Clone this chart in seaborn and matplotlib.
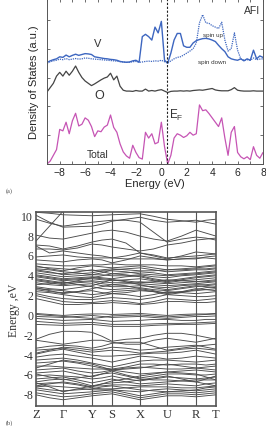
import numpy as np
import pandas as pd
import matplotlib
matplotlib.use('Agg')
import matplotlib.pyplot as plt
import seaborn as sns

sns.set_style('ticks')
plt.rcParams['font.family'] = ['Liberation Sans', 'DejaVu Sans']

# ---------------- (a) density of states ----------------
energy = np.arange(-9.0, 8.001, 0.25)  # eV grid

total = [0.0, 0.1, 0.3, 0.5, 1.2, 1.15, 1.45, 1.05, 1.5, 1.76, 1.32, 1.38, 1.6, 1.52,
         1.3, 0.95, 1.15, 1.12, 1.28, 1.35, 1.7, 1.27, 1.1, 0.7, 0.42, 0.28, 0.2, 0.65,
         0.4, 0.22, 0.17, 1.1, 0.9, 1.05, 0.7, 0.75, 1.45, 0.6, 0.0, 0.3, 0.9, 1.05,
         1.0, 0.92, 0.98, 1.1, 1.0, 1.05, 2.05, 1.85, 1.88, 1.75, 1.6, 1.45, 1.3, 1.6,
         0.9, 0.3, 1.1, 1.3, 0.4, 0.25, 0.18, 0.25, 0.15, 0.6, 0.3, 0.2, 0.4]

dos_o = [0.0, 0.15, 0.3, 0.55, 0.68, 0.55, 0.72, 0.58, 0.72, 0.9, 0.68, 0.5, 0.38, 0.3,
         0.22, 0.28, 0.35, 0.42, 0.48, 0.52, 0.65, 0.42, 0.55, 0.2, 0.06, 0.03, 0.03, 0.02,
         0.05, 0.03, 0.03, 0.1, 0.03, 0.05, 0.03, 0.06, 0.08, 0.03, -0.02, 0.02, 0.03, 0.03,
         0.04, 0.03, 0.04, 0.03, 0.05, 0.06, 0.07, 0.06, 0.08, 0.1, 0.12, 0.07, 0.05, 0.04,
         0.04, 0.04, 0.08, 0.15, 0.06, 0.04, 0.03, 0.03, 0.03, 0.04, 0.03, 0.03, 0.03]

v_down = [0.02, 0.08, 0.12, 0.15, 0.22, 0.2, 0.28, 0.22, 0.27, 0.31, 0.27, 0.3, 0.33, 0.32,
          0.3, 0.22, 0.2, 0.18, 0.16, 0.15, 0.13, 0.12, 0.1, 0.06, 0.04, 0.03, 0.04, 0.08,
          0.1, 0.03, 0.92, 1.0, 0.92, 0.8, 1.25, 1.05, 1.45, 0.1, 0.0, 0.35, 0.8, 1.03,
          1.03, 0.6, 0.55, 0.55, 0.7, 0.78, 0.82, 0.85, 0.86, 0.84, 0.8, 0.75, 0.62, 0.5,
          0.4, 0.22, 0.15, 0.12, 0.1, 0.15, 0.08, 0.15, 0.1, 0.45, 0.15, 0.25, 0.2]

v_up = [0.0, 0.05, 0.08, 0.1, 0.14, 0.12, 0.16, 0.12, 0.14, 0.16, 0.14, 0.15, 0.18, 0.17,
        0.15, 0.14, 0.13, 0.12, 0.11, 0.1, 0.09, 0.08, 0.07, 0.05, 0.04, 0.03, 0.03, 0.05,
        0.06, 0.03, 0.04, 0.06, 0.07, 0.06, 0.08, 0.07, 0.1, 0.05, 0.0, 0.08, 0.15, 0.2,
        0.22, 0.28, 0.35, 0.42, 0.5, 0.7, 1.4, 1.68, 1.4, 1.38, 1.3, 1.25, 1.2, 1.42,
        0.8, 0.42, 0.5, 1.05, 0.45, 0.15, 0.1, 0.12, 0.1, 0.18, 0.12, 0.14, 0.15]

offset_o, offset_v = 2.5, 3.5
e_fermi = 0.45

# ---------------- (b) band structure, energies at k-points and midpoints ----------------
kpoint_labels = ['Z', 'Γ', 'Y', 'S', 'X', 'U', 'R', 'T']
kpoint_pos = [0, 27, 56, 76, 104, 131, 160, 180]

bands = [
    [10.3, 10.2, 10.05, 10.0, 9.95, 10.0, 10.05, 10.1, 10.15, 9.9, 9.6, 9.45, 9.3, 9.5, 9.6],
    [7.4, 8.9, 10.4, 10.5, 10.5, 10.5, 10.5, 10.5, 10.5, 10.5, 10.5, 10.5, 10.5, 10.5, 10.5],
    [10.0, 9.3, 8.8, 8.85, 8.9, 9.1, 9.4, 9.6, 9.8, 9.5, 9.3, 9.4, 9.5, 9.3, 9.1],
    [9.6, 9.2, 8.9, 9.1, 9.3, 9.4, 9.5, 9.5, 9.3, 8.3, 7.3, 7.6, 7.8, 7.7, 7.5],
    [8.0, 7.7, 7.6, 7.9, 8.2, 8.4, 8.5, 8.3, 7.9, 7.6, 7.4, 7.9, 8.5, 8.2, 7.9],
    [7.0, 6.9, 6.6, 6.9, 7.3, 7.5, 7.6, 7.2, 6.2, 5.9, 5.6, 5.9, 6.3, 6.2, 6.1],
    [6.6, 6.6, 6.5, 6.7, 7.1, 7.0, 6.8, 6.6, 6.4, 6.6, 7.0, 7.2, 7.5, 7.6, 7.7],
    [6.9, 6.2, 6.4, 6.2, 6.0, 5.9, 5.7, 5.9, 6.2, 6.0, 5.7, 5.8, 5.9, 6.0, 6.1],
    [5.8, 5.9, 6.0, 5.8, 5.7, 5.7, 5.7, 5.6, 5.6, 5.6, 5.5, 5.6, 5.6, 5.8, 5.9],
    [5.5, 5.4, 5.3, 5.5, 5.6, 5.5, 5.2, 5.5, 5.9, 5.7, 5.5, 5.6, 5.7, 5.7, 5.6],
    [5.1, 5.0, 4.9, 4.9, 5.0, 5.0, 5.1, 5.0, 5.0, 5.0, 4.9, 4.9, 4.8, 4.9, 5.0],
    [4.8, 4.7, 4.6, 4.5, 4.4, 4.5, 4.6, 4.5, 4.4, 4.4, 4.5, 4.5, 4.6, 4.6, 4.7],
    [4.9, 4.6, 4.4, 4.7, 4.9, 4.8, 4.7, 4.8, 4.9, 4.7, 4.5, 4.6, 4.7, 4.8, 4.9],
    [4.6, 4.5, 4.3, 4.2, 4.0, 4.2, 4.5, 4.6, 4.7, 4.5, 4.3, 4.4, 4.5, 4.5, 4.6],
    [4.5, 4.3, 4.0, 4.1, 4.2, 4.4, 4.4, 4.3, 4.1, 4.0, 3.9, 4.0, 4.1, 4.2, 4.3],
    [4.4, 4.2, 4.1, 4.3, 4.5, 4.3, 4.1, 4.2, 4.3, 4.2, 4.0, 4.1, 4.2, 4.3, 4.4],
    [4.2, 4.0, 3.8, 3.9, 4.0, 4.0, 3.9, 3.9, 4.0, 3.8, 3.7, 3.9, 4.0, 4.1, 4.2],
    [4.0, 3.8, 3.6, 3.7, 3.8, 3.7, 3.6, 3.8, 3.9, 3.6, 3.4, 3.6, 3.8, 3.9, 4.0],
    [3.9, 3.7, 3.5, 3.6, 3.7, 3.9, 4.1, 4.0, 3.8, 3.5, 3.3, 3.5, 3.7, 3.8, 3.9],
    [3.8, 3.6, 3.4, 3.5, 3.6, 3.5, 3.4, 3.5, 3.6, 3.4, 3.2, 3.4, 3.5, 3.6, 3.7],
    [3.6, 3.4, 3.2, 3.3, 3.4, 3.3, 3.2, 3.2, 3.3, 3.2, 3.1, 3.2, 3.3, 3.4, 3.5],
    [3.5, 3.3, 3.1, 3.4, 3.7, 3.6, 3.5, 3.4, 3.2, 3.3, 3.5, 3.4, 3.3, 3.3, 3.4],
    [3.4, 3.2, 3.0, 3.2, 3.3, 3.1, 3.0, 3.1, 3.1, 3.0, 2.9, 3.0, 3.1, 3.2, 3.3],
    [3.2, 3.0, 2.9, 3.0, 3.1, 2.9, 2.8, 2.8, 2.9, 2.8, 2.7, 2.9, 3.0, 3.0, 3.1],
    [3.0, 3.1, 3.3, 3.0, 2.8, 2.6, 2.5, 2.6, 2.7, 2.5, 2.4, 2.6, 2.8, 2.9, 3.0],
    [2.8, 2.6, 2.5, 2.7, 2.9, 3.2, 3.5, 3.3, 3.0, 2.7, 2.5, 2.7, 2.9, 2.8, 2.7],
    [2.7, 2.4, 2.1, 2.3, 2.6, 2.8, 3.0, 2.9, 2.6, 2.4, 2.1, 2.3, 2.6, 2.5, 2.4],
    [2.6, 2.5, 2.4, 2.2, 2.0, 2.1, 2.3, 2.4, 2.5, 2.3, 2.0, 2.2, 2.5, 2.7, 2.8],
    [2.5, 2.3, 2.2, 2.3, 2.4, 2.2, 2.1, 2.2, 2.4, 2.3, 2.2, 2.3, 2.4, 2.5, 2.6],
    [2.3, 2.2, 2.0, 1.8, 1.7, 1.9, 2.1, 2.0, 1.8, 2.0, 2.3, 2.2, 2.1, 2.2, 2.3],
    [2.1, 1.8, 1.6, 1.5, 1.5, 1.6, 1.7, 1.6, 1.5, 1.7, 2.0, 1.9, 1.8, 1.8, 1.9],
    [1.9, 1.6, 1.3, 1.2, 1.2, 1.3, 1.4, 1.3, 1.1, 1.3, 1.6, 1.5, 1.4, 1.5, 1.6],
    [1.6, 1.3, 1.0, 1.0, 1.1, 1.1, 1.2, 1.1, 1.0, 1.1, 1.3, 1.3, 1.2, 1.2, 1.3],
    [0.1, 0.0, -0.1, 0.0, 0.05, 0.05, 0.0, 0.05, 0.1, 0.0, -0.1, 0.0, 0.05, 0.05, 0.1],
    [0.0, -0.1, -0.2, -0.3, -0.4, -0.3, -0.15, -0.1, -0.05, -0.15, -0.25, -0.15, -0.05, 0.0, 0.05],
    [-0.2, -0.25, -0.3, -0.2, -0.1, -0.2, -0.3, -0.25, -0.2, -0.3, -0.4, -0.3, -0.2, -0.2, -0.15],
    [-0.4, -0.5, -0.6, -0.55, -0.5, -0.6, -0.7, -0.65, -0.6, -0.5, -0.5, -0.6, -0.6, -0.5, -0.5],
    [-0.7, -0.8, -0.9, -0.85, -0.8, -0.9, -1.0, -1.0, -1.0, -0.95, -0.9, -0.9, -0.85, -0.8, -0.75],
    [-1.0, -1.05, -1.1, -1.05, -1.0, -1.1, -1.2, -1.2, -1.2, -1.1, -1.05, -1.0, -1.0, -0.95, -0.9],
    [-2.5, -2.0, -1.7, -1.7, -1.8, -2.2, -2.7, -2.5, -2.4, -2.1, -1.9, -1.9, -2.1, -2.3, -2.5],
    [-2.6, -2.8, -3.0, -2.8, -2.6, -2.6, -2.8, -3.0, -3.0, -2.6, -2.4, -2.6, -2.8, -2.6, -2.4],
    [-3.4, -3.2, -3.1, -3.2, -3.4, -3.2, -2.9, -2.8, -2.8, -3.2, -3.6, -3.4, -3.2, -3.1, -3.0],
    [-3.6, -3.5, -3.4, -3.6, -3.8, -3.7, -3.6, -3.7, -3.9, -3.8, -3.7, -3.5, -3.4, -3.5, -3.6],
    [-3.9, -3.6, -3.3, -3.4, -3.6, -3.5, -3.3, -3.4, -3.6, -3.5, -3.3, -3.2, -3.1, -3.3, -3.5],
    [-4.0, -3.7, -3.5, -3.8, -4.1, -4.2, -4.2, -4.1, -4.0, -3.9, -3.9, -3.8, -3.6, -3.8, -4.0],
    [-4.3, -4.1, -4.0, -4.2, -4.4, -4.6, -4.8, -4.5, -4.2, -4.3, -4.5, -4.4, -4.2, -4.3, -4.4],
    [-4.6, -4.5, -4.4, -4.6, -4.9, -5.1, -5.3, -5.0, -4.7, -4.6, -4.6, -4.7, -4.8, -4.7, -4.6],
    [-4.9, -4.8, -4.7, -4.9, -5.2, -5.4, -5.5, -5.3, -5.0, -5.0, -5.1, -5.0, -5.0, -5.1, -5.0],
    [-5.2, -5.2, -5.3, -5.4, -5.5, -5.5, -5.6, -5.4, -5.3, -5.4, -5.5, -5.5, -5.4, -5.3, -5.2],
    [-5.4, -5.0, -4.6, -4.8, -5.0, -5.3, -5.6, -5.5, -5.4, -5.2, -5.0, -5.2, -5.4, -5.5, -5.6],
    [-5.6, -5.5, -5.4, -5.7, -5.9, -5.8, -5.6, -5.8, -6.0, -5.9, -5.8, -5.7, -5.6, -5.7, -5.8],
    [-5.9, -5.8, -5.7, -6.0, -6.3, -6.0, -5.7, -6.1, -6.4, -6.2, -6.0, -6.0, -6.1, -6.1, -6.0],
    [-6.0, -6.3, -6.6, -6.4, -6.2, -6.0, -5.9, -6.2, -6.5, -6.6, -6.6, -6.7, -6.8, -6.5, -6.2],
    [-6.2, -6.1, -6.2, -6.3, -6.5, -6.4, -6.2, -6.5, -6.7, -6.5, -6.3, -6.4, -6.5, -6.4, -6.3],
    [-6.5, -6.4, -6.3, -6.6, -6.9, -6.7, -6.5, -6.8, -7.0, -6.9, -6.8, -6.7, -6.6, -6.6, -6.6],
    [-6.8, -6.6, -6.5, -6.8, -7.2, -7.2, -7.1, -7.1, -7.2, -7.1, -7.0, -7.1, -7.2, -7.0, -6.9],
    [-7.0, -6.9, -6.9, -7.1, -7.4, -7.5, -7.5, -7.4, -7.3, -7.3, -7.3, -7.4, -7.4, -7.3, -7.2],
    [-7.3, -7.2, -7.3, -7.4, -7.6, -7.6, -7.6, -7.7, -7.8, -7.6, -7.5, -7.6, -7.7, -7.6, -7.5],
    [-7.4, -7.6, -7.7, -7.6, -7.5, -7.3, -7.2, -7.4, -7.6, -7.7, -7.8, -7.7, -7.6, -7.4, -7.3],
    [-7.6, -7.8, -8.0, -7.9, -7.8, -7.7, -7.6, -7.9, -8.2, -8.0, -7.8, -7.8, -7.9, -7.8, -7.7],
    [-7.9, -8.1, -8.3, -8.2, -8.0, -7.9, -7.8, -8.1, -8.4, -8.2, -8.0, -8.0, -8.1, -8.0, -7.9],
    [-8.1, -8.4, -8.6, -8.4, -8.2, -8.1, -8.0, -8.3, -8.6, -8.4, -8.2, -8.2, -8.3, -8.2, -8.1],
    [-7.2, -7.0, -6.8, -7.0, -7.3, -7.0, -6.9, -6.8, -6.6, -6.4, -6.2, -6.5, -6.8, -7.0, -7.2],
    [-6.9, -7.3, -7.8, -7.5, -7.2, -7.0, -6.7, -6.5, -6.2, -6.0, -5.8, -5.9, -6.0, -6.3, -6.6],
]

# path: k-points with midpoints between them
k_path = []
for a, b in zip(kpoint_pos[:-1], kpoint_pos[1:]):
    k_path += [a, (a + b) / 2]
k_path.append(kpoint_pos[-1])

band_df = pd.DataFrame([(i, k, e) for i, b in enumerate(bands) for k, e in zip(k_path, b)],
                       columns=['band', 'k', 'E'])

dos_df = pd.DataFrame({'E': energy, 'total': total,
                       'O': np.array(dos_o) + offset_o,
                       'Vdown': np.array(v_down) + offset_v,
                       'Vup': np.array(v_up) + offset_v})

fig = plt.figure(figsize=(2.66, 4.27), dpi=100)

# ---- top panel ----
ax1 = fig.add_axes([0.1767, 0.6136, 0.812, 0.386])
blue = '#3d66c0'
sns.lineplot(data=dos_df, x='E', y='total', ax=ax1, color='#c654b4', lw=0.9)
sns.lineplot(data=dos_df, x='E', y='O', ax=ax1, color='#444444', lw=0.9)
sns.lineplot(data=dos_df, x='E', y='Vup', ax=ax1, color=blue, lw=0.9, linestyle=(0, (1, 0.8)))
sns.lineplot(data=dos_df, x='E', y='Vdown', ax=ax1, color=blue, lw=1.0)
ax1.axvline(e_fermi, color='#222222', lw=0.8, ls=(0, (2, 1.5)))
ax1.set_xlim(-9, 8)
ax1.set_ylim(0, 5.72)
ax1.set_xticks(range(-8, 9, 2))
ax1.set_xticks(range(-9, 9), minor=True)
ax1.set_yticks(range(0, 6))
ax1.set_yticklabels([])
ax1.tick_params(which='both', direction='in', top=True, right=True, length=2.5,
                width=0.6, labelsize=7.5, pad=2, color='#555555')
ax1.set_xlabel('Energy (eV)', fontsize=8, labelpad=1)
ax1.set_ylabel('Density of States (a.u.)', fontsize=8, labelpad=4)
for s in ax1.spines.values():
    s.set_linewidth(0.7)
    s.set_color('#555555')
ax1.text(0.985, 0.965, 'AFI', transform=ax1.transAxes, ha='right', va='top', fontsize=7.5, color='#333333')
ax1.text(-5.0, 4.2, 'V', fontsize=8, ha='center', va='center', color='#333333')
ax1.text(4.1, 4.5, 'spin up', fontsize=4.5, ha='center', va='center', color='#333333')
ax1.text(3.95, 3.55, 'spin down', fontsize=4.5, ha='center', va='center', color='#333333')
ax1.text(-4.9, 2.4, 'O', fontsize=9, ha='center', va='center', color='#333333')
ax1.text(0.6, 1.72, '$\\mathregular{E_F}$', fontsize=8.5, ha='left', va='center', color='#333333')
ax1.text(-5.0, 0.35, 'Total', fontsize=7.5, ha='center', va='center', color='#333333')
fig.text(0.02, 0.548, '(a)', fontsize=4.5, family='Liberation Serif', color='#444444')

# ---- bottom panel ----
ax2 = fig.add_axes([0.1353, 0.0475, 0.6767, 0.453])
sns.lineplot(data=band_df, x='k', y='E', units='band', estimator=None, ax=ax2,
             color='#4a4a4a', lw=0.65)
for k in kpoint_pos[1:-1]:
    ax2.axvline(k, color='#555555', lw=0.8)
ax2.set_xlim(kpoint_pos[0], kpoint_pos[-1])
ax2.set_ylim(-9.2, 10.3)
ax2.set_xticks(kpoint_pos)
ax2.set_xticklabels(kpoint_labels, family='Liberation Serif', fontsize=9)
ax2.set_yticks(range(-8, 11, 2))
ax2.set_yticklabels([str(v) for v in range(-8, 11, 2)], family='Liberation Serif', fontsize=8.5)
ax2.tick_params(length=0, pad=2, colors='#333333')
ax2.set_xlabel('')
ax2.set_ylabel('Energy ,eV', family='Liberation Serif', fontsize=8.5, labelpad=1, color='#333333')
for s in ax2.spines.values():
    s.set_linewidth(1.2)
    s.set_color('#555555')
fig.text(0.02, 0.002, '(b)', fontsize=4.5, family='Liberation Serif', color='#444444', va='bottom')

fig.savefig('out.png', dpi=100)
